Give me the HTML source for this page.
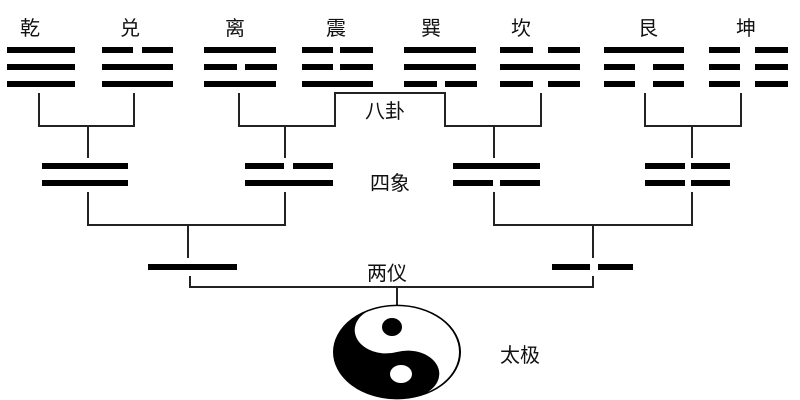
<!DOCTYPE html>
<html><head><meta charset="utf-8"><style>
html,body{margin:0;padding:0;background:#fff;width:800px;height:400px;overflow:hidden}
text{font-family:"Liberation Sans","Noto Sans CJK SC",sans-serif;font-size:20px;fill:#111}
</style></head><body>
<svg width="800" height="400" viewBox="0 0 800 400" xmlns="http://www.w3.org/2000/svg">
<g fill="#000">
<!-- 乾 -->
<rect x="7" y="47" width="68" height="6"/><rect x="7" y="64" width="68" height="6"/><rect x="7" y="81" width="68" height="6"/>
<!-- 兑 -->
<rect x="102" y="47" width="31" height="6"/><rect x="142" y="47" width="31" height="6"/><rect x="102" y="64" width="71" height="6"/><rect x="102" y="81" width="71" height="6"/>
<!-- 离 -->
<rect x="204" y="47" width="72" height="6"/><rect x="204" y="64" width="33" height="6"/><rect x="245" y="64" width="32" height="6"/><rect x="204" y="81" width="72" height="6"/>
<!-- 震 -->
<rect x="302" y="47" width="31" height="6"/><rect x="340" y="47" width="33" height="6"/><rect x="302" y="64" width="31" height="6"/><rect x="340" y="64" width="33" height="6"/><rect x="302" y="81" width="71" height="6"/>
<!-- 巽 -->
<rect x="404" y="47" width="72" height="6"/><rect x="404" y="64" width="72" height="6"/><rect x="404" y="81" width="33" height="6"/><rect x="445" y="81" width="32" height="6"/>
<!-- 坎 -->
<rect x="500" y="47" width="33" height="6"/><rect x="548" y="47" width="32" height="6"/><rect x="500" y="64" width="80" height="6"/><rect x="500" y="81" width="33" height="6"/><rect x="548" y="81" width="32" height="6"/>
<!-- 艮 -->
<rect x="604" y="47" width="80" height="6"/><rect x="604" y="64" width="31" height="6"/><rect x="653" y="64" width="31" height="6"/><rect x="604" y="81" width="31" height="6"/><rect x="653" y="81" width="31" height="6"/>
<!-- 坤 -->
<rect x="709" y="47" width="31" height="6"/><rect x="755" y="47" width="33" height="6"/><rect x="709" y="64" width="31" height="6"/><rect x="755" y="64" width="33" height="6"/><rect x="709" y="81" width="31" height="6"/><rect x="755" y="81" width="33" height="6"/>
<!-- 四象 -->
<rect x="42" y="163" width="86" height="6"/><rect x="42" y="180" width="86" height="6"/>
<rect x="245" y="163" width="39" height="6"/><rect x="293" y="163" width="40" height="6"/><rect x="245" y="180" width="88" height="6"/>
<rect x="453" y="163" width="87" height="6"/><rect x="453" y="180" width="40" height="6"/><rect x="500" y="180" width="40" height="6"/>
<rect x="645" y="163" width="40" height="6"/><rect x="691" y="163" width="39" height="6"/><rect x="645" y="180" width="40" height="6"/><rect x="691" y="180" width="39" height="6"/>
<!-- 两仪 -->
<rect x="148" y="264" width="89" height="6"/>
<rect x="552" y="264" width="38" height="6"/><rect x="598" y="264" width="35" height="6"/>
</g>
<g stroke="#222" stroke-width="2" fill="none">
<path d="M39 93V126H134V93M88 126V158"/>
<path d="M239 93V126H335V93H445V126H541V93M285 126V158M494 126V158"/>
<path d="M645 93V126H741V93M692 126V158"/>
<path d="M88 192V225H285V192M188 225V258"/>
<path d="M494 192V225H692V192M593 225V258"/>
<path d="M190 276V287H593V276M397 287V310"/>
</g>
<g transform="translate(397 352) scale(1 0.74)">
<circle r="63" fill="#fff" stroke="#000" stroke-width="2"/>
<path d="M0 -63 A63 63 0 0 0 0 63 A31.5 31.5 0 0 0 0 0 A31.5 31.5 0 0 1 0 -63Z" fill="#000" transform="rotate(-20)"/>
</g>
<ellipse cx="392" cy="327" rx="10" ry="9" fill="#000"/>
<ellipse cx="401" cy="374" rx="11" ry="9" fill="#fff"/>
<text x="20" y="35">乾</text><text x="120" y="35">兑</text><text x="225" y="35">离</text><text x="326" y="35">震</text>
<text x="421" y="35">巽</text><text x="511" y="35">坎</text><text x="638" y="35">艮</text><text x="736" y="35">坤</text>
<text x="365" y="118">八卦</text>
<text x="370" y="190">四象</text>
<text x="367" y="280">两仪</text>
<text x="500" y="362">太极</text>
</svg>
</body></html>
